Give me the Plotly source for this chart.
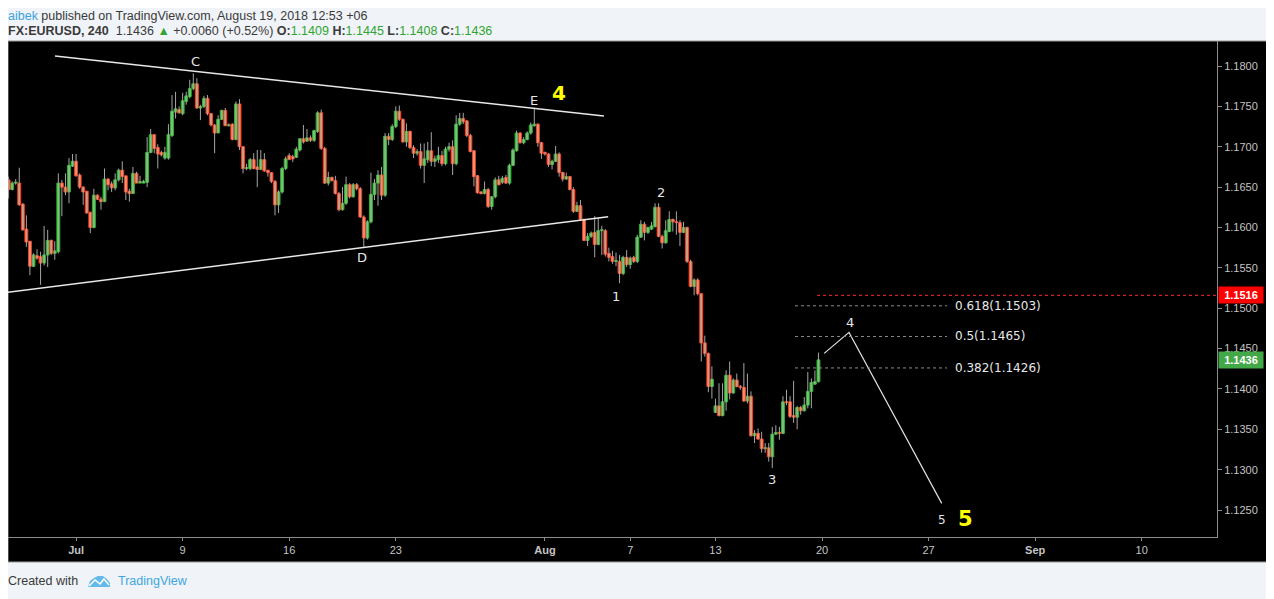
import numpy as np
import plotly.graph_objects as go
from datetime import date, timedelta

# ---------------- data: EURUSD 240 (4h) candles ----------------
open_ = [
    1.1659, 1.1647, 1.1655, 1.1655, 1.1629, 1.1598, 1.1583, 1.1552, 1.1565, 1.1564,
    1.1556, 1.1566, 1.1584, 1.1568, 1.1570, 1.1655, 1.1650, 1.1644, 1.1676, 1.1682,
    1.1665, 1.1650, 1.1645, 1.1619, 1.1600, 1.1640, 1.1635, 1.1632, 1.1660, 1.1654,
    1.1649, 1.1659, 1.1671, 1.1664, 1.1645, 1.1642, 1.1667, 1.1655, 1.1655, 1.1656,
    1.1693, 1.1715, 1.1699, 1.1693, 1.1686, 1.1686, 1.1714, 1.1743, 1.1746, 1.1741,
    1.1756, 1.1762, 1.1772, 1.1778, 1.1748, 1.1750, 1.1760, 1.1741, 1.1727, 1.1717,
    1.1734, 1.1745, 1.1726, 1.1728, 1.1709, 1.1753, 1.1700, 1.1673, 1.1673, 1.1684,
    1.1675, 1.1672, 1.1684, 1.1671, 1.1668, 1.1657, 1.1628, 1.1644, 1.1673, 1.1689,
    1.1688, 1.1687, 1.1696, 1.1710, 1.1707, 1.1711, 1.1708, 1.1719, 1.1742, 1.1698,
    1.1655, 1.1662, 1.1658, 1.1642, 1.1622, 1.1630, 1.1653, 1.1638, 1.1653, 1.1648,
    1.1613, 1.1587, 1.1607, 1.1641, 1.1655, 1.1665, 1.1640, 1.1713, 1.1709, 1.1725,
    1.1744, 1.1734, 1.1706, 1.1719, 1.1699, 1.1692, 1.1694, 1.1677, 1.1684, 1.1695,
    1.1682, 1.1684, 1.1689, 1.1679, 1.1697, 1.1700, 1.1679, 1.1728, 1.1735, 1.1732,
    1.1714, 1.1695, 1.1664, 1.1644, 1.1642, 1.1647, 1.1626, 1.1638, 1.1659, 1.1656,
    1.1662, 1.1655, 1.1677, 1.1695, 1.1717, 1.1705, 1.1709, 1.1717, 1.1726, 1.1728,
    1.1705, 1.1693, 1.1691, 1.1678, 1.1682, 1.1691, 1.1668, 1.1660, 1.1663, 1.1647,
    1.1620, 1.1627, 1.1610, 1.1584, 1.1589, 1.1594, 1.1579, 1.1596, 1.1596, 1.1568,
    1.1564, 1.1558, 1.1558, 1.1543, 1.1563, 1.1554, 1.1563, 1.1558, 1.1588, 1.1604,
    1.1594, 1.1598, 1.1601, 1.1625, 1.1589, 1.1581, 1.1595, 1.1610, 1.1607, 1.1606,
    1.1594, 1.1600, 1.1558, 1.1527, 1.1535, 1.1518, 1.1457, 1.1444, 1.1403, 1.1371,
    1.1379, 1.1367, 1.1384, 1.1417, 1.1395, 1.1411, 1.1403, 1.1402, 1.1385, 1.1391,
    1.1342, 1.1345, 1.1338, 1.1326, 1.1327, 1.1316, 1.1344, 1.1346, 1.1345, 1.1384,
    1.1384, 1.1367, 1.1365, 1.1377, 1.1373, 1.1380, 1.1397, 1.1406, 1.1409,
]
high = [
    1.1663, 1.1657, 1.1660, 1.1674, 1.1630, 1.1615, 1.1583, 1.1568, 1.1573, 1.1570,
    1.1602, 1.1597, 1.1585, 1.1583, 1.1667, 1.1659, 1.1667, 1.1686, 1.1691, 1.1691,
    1.1667, 1.1651, 1.1645, 1.1619, 1.1648, 1.1641, 1.1638, 1.1673, 1.1661, 1.1657,
    1.1667, 1.1673, 1.1682, 1.1664, 1.1648, 1.1675, 1.1669, 1.1664, 1.1659, 1.1712,
    1.1722, 1.1715, 1.1703, 1.1695, 1.1700, 1.1728, 1.1764, 1.1768, 1.1750, 1.1767,
    1.1768, 1.1783, 1.1791, 1.1785, 1.1752, 1.1763, 1.1764, 1.1742, 1.1728, 1.1739,
    1.1746, 1.1748, 1.1729, 1.1729, 1.1756, 1.1759, 1.1701, 1.1679, 1.1686, 1.1692,
    1.1696, 1.1696, 1.1692, 1.1671, 1.1668, 1.1659, 1.1646, 1.1675, 1.1688, 1.1692,
    1.1690, 1.1700, 1.1710, 1.1727, 1.1722, 1.1714, 1.1721, 1.1744, 1.1746, 1.1700,
    1.1669, 1.1663, 1.1664, 1.1644, 1.1650, 1.1663, 1.1655, 1.1655, 1.1655, 1.1650,
    1.1615, 1.1609, 1.1668, 1.1660, 1.1671, 1.1675, 1.1717, 1.1717, 1.1728, 1.1750,
    1.1751, 1.1735, 1.1729, 1.1720, 1.1702, 1.1697, 1.1704, 1.1704, 1.1706, 1.1718,
    1.1689, 1.1700, 1.1695, 1.1700, 1.1705, 1.1708, 1.1739, 1.1742, 1.1742, 1.1733,
    1.1716, 1.1696, 1.1665, 1.1645, 1.1657, 1.1649, 1.1639, 1.1662, 1.1664, 1.1664,
    1.1665, 1.1679, 1.1698, 1.1720, 1.1718, 1.1712, 1.1719, 1.1730, 1.1748, 1.1729,
    1.1706, 1.1694, 1.1692, 1.1684, 1.1701, 1.1693, 1.1669, 1.1668, 1.1664, 1.1650,
    1.1632, 1.1634, 1.1611, 1.1593, 1.1595, 1.1614, 1.1612, 1.1602, 1.1598, 1.1575,
    1.1571, 1.1569, 1.1566, 1.1565, 1.1572, 1.1564, 1.1565, 1.1591, 1.1609, 1.1607,
    1.1601, 1.1607, 1.1630, 1.1630, 1.1591, 1.1609, 1.1620, 1.1611, 1.1620, 1.1609,
    1.1607, 1.1601, 1.1560, 1.1537, 1.1537, 1.1518, 1.1466, 1.1445, 1.1428, 1.1388,
    1.1407, 1.1407, 1.1423, 1.1434, 1.1413, 1.1419, 1.1405, 1.1432, 1.1419, 1.1397,
    1.1349, 1.1351, 1.1347, 1.1333, 1.1333, 1.1353, 1.1355, 1.1353, 1.1391, 1.1399,
    1.1391, 1.1410, 1.1379, 1.1379, 1.1390, 1.1421, 1.1413, 1.1423, 1.1445,
]
low = [
    1.1636, 1.1646, 1.1653, 1.1627, 1.1596, 1.1576, 1.1541, 1.1551, 1.1560, 1.1529,
    1.1553, 1.1551, 1.1566, 1.1560, 1.1568, 1.1614, 1.1640, 1.1630, 1.1675, 1.1663,
    1.1648, 1.1628, 1.1617, 1.1593, 1.1599, 1.1634, 1.1622, 1.1632, 1.1646, 1.1644,
    1.1646, 1.1657, 1.1655, 1.1634, 1.1632, 1.1642, 1.1655, 1.1655, 1.1655, 1.1650,
    1.1692, 1.1692, 1.1673, 1.1688, 1.1684, 1.1684, 1.1712, 1.1735, 1.1741, 1.1739,
    1.1752, 1.1760, 1.1770, 1.1747, 1.1733, 1.1748, 1.1739, 1.1725, 1.1692, 1.1717,
    1.1733, 1.1726, 1.1725, 1.1708, 1.1708, 1.1696, 1.1667, 1.1671, 1.1671, 1.1672,
    1.1650, 1.1671, 1.1669, 1.1663, 1.1655, 1.1615, 1.1618, 1.1642, 1.1671, 1.1684,
    1.1681, 1.1686, 1.1694, 1.1704, 1.1706, 1.1706, 1.1706, 1.1717, 1.1696, 1.1654,
    1.1652, 1.1657, 1.1641, 1.1620, 1.1621, 1.1628, 1.1636, 1.1637, 1.1646, 1.1612,
    1.1576, 1.1585, 1.1605, 1.1634, 1.1627, 1.1634, 1.1638, 1.1702, 1.1707, 1.1723,
    1.1732, 1.1705, 1.1700, 1.1697, 1.1686, 1.1689, 1.1673, 1.1655, 1.1680, 1.1676,
    1.1675, 1.1680, 1.1676, 1.1677, 1.1694, 1.1665, 1.1677, 1.1726, 1.1728, 1.1712,
    1.1693, 1.1651, 1.1642, 1.1641, 1.1641, 1.1624, 1.1622, 1.1636, 1.1652, 1.1654,
    1.1654, 1.1653, 1.1676, 1.1694, 1.1704, 1.1703, 1.1708, 1.1715, 1.1725, 1.1700,
    1.1685, 1.1689, 1.1675, 1.1672, 1.1681, 1.1663, 1.1657, 1.1659, 1.1646, 1.1618,
    1.1619, 1.1608, 1.1583, 1.1577, 1.1587, 1.1563, 1.1578, 1.1566, 1.1564, 1.1558,
    1.1555, 1.1552, 1.1531, 1.1541, 1.1551, 1.1549, 1.1556, 1.1556, 1.1587, 1.1584,
    1.1592, 1.1597, 1.1600, 1.1588, 1.1574, 1.1580, 1.1594, 1.1595, 1.1591, 1.1577,
    1.1593, 1.1556, 1.1526, 1.1516, 1.1516, 1.1434, 1.1440, 1.1396, 1.1388, 1.1370,
    1.1366, 1.1366, 1.1373, 1.1387, 1.1394, 1.1402, 1.1399, 1.1384, 1.1382, 1.1341,
    1.1333, 1.1337, 1.1321, 1.1321, 1.1310, 1.1302, 1.1343, 1.1337, 1.1344, 1.1380,
    1.1364, 1.1358, 1.1350, 1.1368, 1.1372, 1.1376, 1.1376, 1.1405, 1.1408,
]
close = [
    1.1647, 1.1655, 1.1655, 1.1628, 1.1597, 1.1582, 1.1552, 1.1566, 1.1562, 1.1556,
    1.1566, 1.1584, 1.1568, 1.1571, 1.1655, 1.1650, 1.1644, 1.1677, 1.1682, 1.1664,
    1.1650, 1.1644, 1.1618, 1.1600, 1.1640, 1.1635, 1.1632, 1.1660, 1.1653, 1.1649,
    1.1659, 1.1671, 1.1663, 1.1644, 1.1642, 1.1667, 1.1655, 1.1657, 1.1657, 1.1693,
    1.1715, 1.1698, 1.1691, 1.1690, 1.1693, 1.1715, 1.1744, 1.1747, 1.1742, 1.1757,
    1.1763, 1.1772, 1.1778, 1.1748, 1.1750, 1.1760, 1.1741, 1.1727, 1.1717, 1.1734,
    1.1745, 1.1726, 1.1727, 1.1709, 1.1753, 1.1700, 1.1673, 1.1674, 1.1684, 1.1673,
    1.1672, 1.1684, 1.1670, 1.1668, 1.1657, 1.1628, 1.1644, 1.1673, 1.1685, 1.1684,
    1.1685, 1.1697, 1.1710, 1.1706, 1.1711, 1.1708, 1.1720, 1.1742, 1.1698, 1.1655,
    1.1662, 1.1658, 1.1642, 1.1622, 1.1630, 1.1653, 1.1638, 1.1653, 1.1648, 1.1613,
    1.1587, 1.1607, 1.1641, 1.1655, 1.1665, 1.1640, 1.1713, 1.1709, 1.1725, 1.1744,
    1.1734, 1.1706, 1.1719, 1.1699, 1.1692, 1.1694, 1.1677, 1.1685, 1.1695, 1.1682,
    1.1685, 1.1689, 1.1679, 1.1697, 1.1700, 1.1679, 1.1728, 1.1735, 1.1731, 1.1714,
    1.1694, 1.1663, 1.1643, 1.1642, 1.1647, 1.1626, 1.1638, 1.1659, 1.1653, 1.1661,
    1.1655, 1.1677, 1.1696, 1.1717, 1.1705, 1.1709, 1.1717, 1.1727, 1.1728, 1.1705,
    1.1692, 1.1691, 1.1678, 1.1682, 1.1691, 1.1668, 1.1660, 1.1663, 1.1647, 1.1620,
    1.1627, 1.1610, 1.1584, 1.1589, 1.1593, 1.1579, 1.1596, 1.1596, 1.1567, 1.1563,
    1.1558, 1.1558, 1.1543, 1.1563, 1.1554, 1.1562, 1.1558, 1.1588, 1.1604, 1.1594,
    1.1600, 1.1602, 1.1625, 1.1589, 1.1581, 1.1596, 1.1610, 1.1607, 1.1606, 1.1594,
    1.1600, 1.1558, 1.1527, 1.1535, 1.1518, 1.1457, 1.1444, 1.1403, 1.1412, 1.1379,
    1.1367, 1.1384, 1.1417, 1.1395, 1.1411, 1.1403, 1.1402, 1.1385, 1.1391, 1.1342,
    1.1345, 1.1338, 1.1326, 1.1327, 1.1316, 1.1344, 1.1346, 1.1345, 1.1384, 1.1383,
    1.1366, 1.1365, 1.1377, 1.1373, 1.1380, 1.1397, 1.1408, 1.1409, 1.1436,
]

# time axis labels (first 4h bar of each date)
tick_dates = [date(2018, 7, 2), date(2018, 7, 9), date(2018, 7, 16), date(2018, 7, 23),
              date(2018, 8, 1), date(2018, 8, 7), date(2018, 8, 13), date(2018, 8, 20),
              date(2018, 8, 27), date(2018, 9, 3), date(2018, 9, 10)]
tick_labels = ["<b>Jul</b>", "9", "16", "23", "<b>Aug</b>", "7", "13", "20", "27", "<b>Sep</b>", "10"]

# analysis levels
fib_ratios = [0.382, 0.5, 0.618]
fib_levels = [1.1426, 1.1465, 1.1503]
alert_level = 1.1516
change_text = "+0.0060 (+0.52%)"

# ---------------- build bar index from trading days ----------------
def trading_days(start, end):
    d, out = start, []
    while d <= end:
        if d.weekday() < 5:
            out.append(d)
        d += timedelta(days=1)
    return out

days = trading_days(date(2018, 6, 26), date(2018, 9, 14))
bar_day = [d for d in days for _ in range(6)][5:]
tick_vals = [bar_day.index(d) for d in tick_dates]

o = np.array(open_); h = np.array(high); l = np.array(low); c = np.array(close)
n = len(c)
xi = np.arange(n)
up = c >= o
body_base = np.minimum(o, c)
body_h = np.maximum(np.abs(c - o), 0.00012)

# page is offset by the 8px body margin -> figure coords = page coords - 8
OFF = 8
W, H = 1274 - OFF, 599 - OFF
PL, PR, PT, PB = 8 - OFF, 1217 - OFF, 41 - OFF, 537 - OFF

X0, X1 = -0.17, 340.2
Y0, Y1 = 1.12166, 1.18310


def px(xp):  # page x -> paper
    return (xp - OFF - PL) / (PR - PL)


def py(yp):  # page y -> paper
    return (PB - (yp - OFF)) / (PB - PT)


fig = go.Figure()

# wicks
wx, wy = [], []
for i in range(n):
    wx += [xi[i], xi[i], None]
    wy += [l[i], h[i], None]
fig.add_trace(go.Scatter(x=wx, y=wy, mode="lines", line=dict(color="#a6a6a6", width=1),
                         hoverinfo="skip", showlegend=False))

# bodies
fig.add_trace(go.Bar(x=xi[up], base=body_base[up], y=body_h[up], width=0.82,
                     marker=dict(color="#55d655", line=dict(color="#2fb12f", width=1)),
                     showlegend=False, hoverinfo="skip"))
fig.add_trace(go.Bar(x=xi[~up], base=body_base[~up], y=body_h[~up], width=0.82,
                     marker=dict(color="#ff9460", line=dict(color="#ff3a1c", width=1)),
                     showlegend=False, hoverinfo="skip"))

# triangle trend lines
fig.add_trace(go.Scatter(x=[13.06, 167.6], y=[1.18124, 1.17381], mode="lines",
                         line=dict(color="#e8e8e8", width=1.5), hoverinfo="skip", showlegend=False))
fig.add_trace(go.Scatter(x=[-0.45, 168.8], y=[1.15197, 1.16133], mode="lines",
                         line=dict(color="#e8e8e8", width=1.5), hoverinfo="skip", showlegend=False))
# projected waves 4-5
fig.add_trace(go.Scatter(x=[229.6, 236.6, 262.7], y=[1.14441, 1.14701, 1.12583], mode="lines",
                         line=dict(color="#e0e0e0", width=1.2), hoverinfo="skip", showlegend=False))

shapes = []
# black panel incl. axes area
shapes.append(dict(type="rect", xref="paper", yref="paper", x0=px(8), x1=px(1267), y0=py(562), y1=1,
                   fillcolor="#000000", line=dict(color="#9a9a9a", width=1), layer="below"))
# fib lines
for lv in fib_levels:
    shapes.append(dict(type="line", xref="x", yref="y", x0=221.4, x1=264.2, y0=lv, y1=lv,
                       line=dict(color="#8c8c8c", width=1, dash="dot")))
# alert line
shapes.append(dict(type="line", xref="x", yref="y", x0=227.6, x1=X1, y0=alert_level, y1=alert_level,
                   line=dict(color="#ff2a2a", width=1, dash="dot")))


# logo
def pt(a, b):
    return f"{px(a):.5f},{py(b):.5f}"


logo_path = "M " + " L ".join(pt(a, b) for a, b in
                              [(88, 587), (90, 581), (94, 578), (98, 576), (103, 576), (107, 579),
                               (110, 583), (110, 587)]) + " Z"
shapes.append(dict(type="path", xref="paper", yref="paper", path=logo_path,
                   fillcolor="#63b9ea", line=dict(width=0)))
zig = "M " + " L ".join(pt(a, b) for a, b in [(89, 586), (95, 580), (100, 584), (104, 579), (109, 585)])
shapes.append(dict(type="path", xref="paper", yref="paper", path=zig,
                   line=dict(color="#ffffff", width=1.5)))

ann = []
lab_font = dict(family="DejaVu Sans, Verdana, sans-serif", size=13, color="#e6e6e6")
for t, xv, yv in [("C", 52.5, 1.18062), ("E", 147.9, 1.17579), ("D", 99.5, 1.15634),
                  ("1", 171.0, 1.15151), ("2", 183.7, 1.16439), ("3", 214.9, 1.12884),
                  ("4", 236.9, 1.14829)]:
    ann.append(dict(x=xv, y=yv, xref="x", yref="y", text=t, showarrow=False, font=lab_font))
ann.append(dict(x=262.7, y=1.12376, xref="x", yref="y", text="5", showarrow=False,
                font=dict(family="DejaVu Sans, Verdana, sans-serif", size=12, color="#e6e6e6")))
ann.append(dict(x=155.0, y=1.17666, xref="x", yref="y", text="<b>4</b>", showarrow=False,
                font=dict(family="DejaVu Sans, Verdana, sans-serif", size=20, color="#ffff00")))
ann.append(dict(x=269.5, y=1.12385, xref="x", yref="y", text="<b>5</b>", showarrow=False,
                font=dict(family="DejaVu Sans, Verdana, sans-serif", size=21, color="#ffff00")))
for r, lv in zip(fib_ratios, fib_levels):
    ann.append(dict(x=265.9, y=lv, xref="x", yref="y", text=f"{r:g}({lv:.4f})", showarrow=False,
                    xanchor="left", font=dict(family="DejaVu Sans, Verdana, sans-serif", size=12,
                                              color="#e8e8e8")))
# price boxes on the axis
ann.append(dict(x=1, y=alert_level, xref="paper", yref="y", xanchor="left", xshift=1,
                text=f"<b>{alert_level:.4f}</b>", showarrow=False, bgcolor="#ff0000",
                font=dict(family="Liberation Sans, Arial", size=11, color="#ffffff"),
                width=40, height=12, borderpad=2))
ann.append(dict(x=1, y=c[-1], xref="paper", yref="y", xanchor="left", xshift=1,
                text=f"<b>{c[-1]:.4f}</b>", showarrow=False, bgcolor="#43a847",
                font=dict(family="Liberation Sans, Arial", size=11, color="#ffffff"),
                width=40, height=12, borderpad=2))

# header
hdr_font = dict(family="Liberation Sans, Arial", size=12.5, color="#3a3a3a")
ann.append(dict(x=px(8), y=1 + (PT - 0.5) / (PB - PT), xref="paper", yref="paper", xanchor="left",
                yanchor="top", borderpad=0, borderwidth=0,
                showarrow=False, font=hdr_font,
                text='<span style="color:#3ba3df">aibek</span> published on TradingView.com, August 19, 2018 12:53 +06'))
g = "#31a531"
line2 = (f"<b>FX:EURUSD, 240</b>  {c[-1]:.4f} <span style='color:{g}'>▲</span> {change_text} "
         f"<b>O:</b><span style='color:{g}'>{o[-1]:.4f}</span> "
         f"<b>H:</b><span style='color:{g}'>{h[-1]:.4f}</span> "
         f"<b>L:</b><span style='color:{g}'>{l[-1]:.4f}</span> "
         f"<b>C:</b><span style='color:{g}'>{c[-1]:.4f}</span>")
ann.append(dict(x=px(8), y=py(31), xref="paper", yref="paper", xanchor="left", yanchor="middle",
                borderpad=0, borderwidth=0, showarrow=False, font=hdr_font, text=line2))
# footer
ann.append(dict(x=px(8), y=py(581), xref="paper", yref="paper", xanchor="left", yanchor="middle",
                borderpad=0, borderwidth=0, showarrow=False, font=hdr_font, text="Created with"))
ann.append(dict(x=px(116), y=py(581), xref="paper", yref="paper", xanchor="left", yanchor="middle",
                showarrow=False, font=dict(family="Liberation Sans, Arial", size=12.5, color="#3ea6e0"),
                text="TradingView"))

fig.update_layout(
    width=W, height=H,
    margin=dict(l=PL, r=W - PR, t=PT, b=H - PB, pad=0),
    paper_bgcolor="#f0f3f7", plot_bgcolor="#000000",
    barmode="overlay", showlegend=False,
    shapes=shapes, annotations=ann,
    xaxis=dict(range=[X0, X1], tickvals=tick_vals, ticktext=tick_labels,
               ticks="outside", ticklen=3, tickcolor="#8c8c8c",
               tickfont=dict(family="Liberation Sans, Arial", size=11, color="#c4c4c4"),
               showgrid=False, zeroline=False, showline=True, linecolor="#8c8c8c", linewidth=1,
               fixedrange=True),
    yaxis=dict(range=[Y0, Y1], side="right", tick0=1.125, dtick=0.005, tickformat=".4f",
               ticks="outside", ticklen=4, tickcolor="#8c8c8c",
               tickfont=dict(family="Liberation Sans, Arial", size=11, color="#c4c4c4"),
               showgrid=False, zeroline=False, showline=True, linecolor="#8c8c8c", linewidth=1,
               fixedrange=True),
)

fig.write_html("out.html")
